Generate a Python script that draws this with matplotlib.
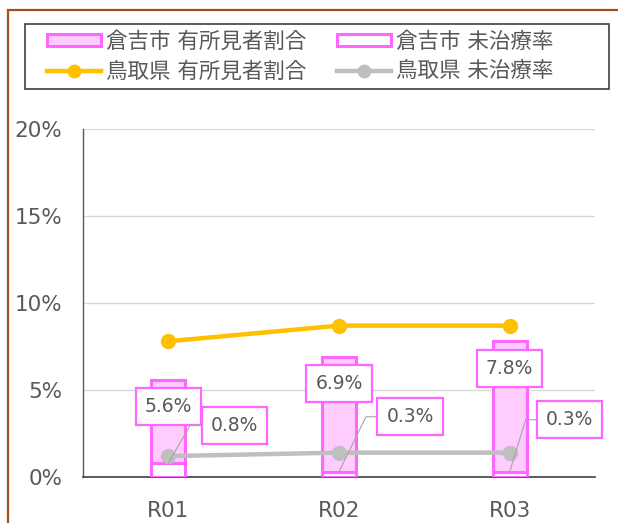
import math
import matplotlib
matplotlib.use("Agg")
import matplotlib.pyplot as plt
import matplotlib.patches as patches
from matplotlib.lines import Line2D

# Latin glyphs from DejaVu (Verdana-like), Japanese falls back to Noto CJK
plt.rcParams['font.family'] = ['DejaVu Sans', 'Noto Sans CJK JP']

years = ["R01", "R02", "R03"]
kurayoshi_yushoken = [5.6, 6.9, 7.8]   # 倉吉市 有所見者割合 (%)
kurayoshi_michiryo = [0.8, 0.3, 0.3]   # 倉吉市 未治療率 (%)
tottori_yushoken = [7.8, 8.7, 8.7]     # 鳥取県 有所見者割合 (%)
tottori_michiryo = [1.2, 1.4, 1.4]     # 鳥取県 未治療率 (%)
yticks = [0, 5, 10, 15, 20]

# label offsets (pixels) for the 未治療率 labels
michiryo_offsets = [(66, 38), (71, 55), (60, 52)]

pink_edge = "#FF66FF"
pink_fill = "#FFCCFF"
orange = "#FFC000"
gray = "#BFBFBF"
txt = "#595959"

fig = plt.figure(figsize=(6.18, 5.23), dpi=100)
W, H = 618, 523

# brown outer frame (only left and top visible)
fig.patches.append(patches.Rectangle((8 / W, -0.2), 1.2, (H - 10) / H + 0.2,
                                     transform=fig.transFigure, fill=False,
                                     ec="#A0521E", lw=1.6))

ax = fig.add_axes([83 / W, 46 / H, 512 / W, 348 / H])
x = list(range(len(years)))
bw = 0.2

ax.bar(x, kurayoshi_yushoken, width=bw, color=pink_fill, edgecolor=pink_edge,
       linewidth=2.2, zorder=2)
ax.bar(x, kurayoshi_michiryo, width=bw, color="white", edgecolor=pink_edge,
       linewidth=2.2, zorder=3)
ax.plot(x, tottori_michiryo, color=gray, lw=3.2, marker="o", ms=10, zorder=4)
ax.plot(x, tottori_yushoken, color=orange, lw=3.2, marker="o", ms=10, zorder=4)

box = dict(boxstyle="square,pad=0.48", fc="white", ec=pink_edge, lw=1.6)
for i, v in enumerate(kurayoshi_yushoken):
    ax.annotate(f"{v:.1f}%", xy=(i, v), xytext=(0, -27), textcoords="offset pixels",
                ha="center", va="center", fontsize=13.5, color=txt, bbox=box, zorder=6)

for i, v in enumerate(kurayoshi_michiryo):
    dx, dy = michiryo_offsets[i]
    ang = math.degrees(math.atan2(dy, dx - 44))
    ax.annotate(f"{v:.1f}%", xy=(i, v), xytext=(dx, dy), textcoords="offset pixels",
                ha="center", va="center", fontsize=13.5, color=txt, bbox=box, zorder=6,
                arrowprops=dict(arrowstyle="-", color="#A6A6A6", lw=0.8,
                                connectionstyle=f"angle,angleA=0,angleB={ang:.1f},rad=0",
                                shrinkA=0, shrinkB=0))

ax.set_xlim(-0.5, 2.5)
ax.set_ylim(0, 20)
ax.set_yticks(yticks)
ax.set_yticklabels([f"{t}%" for t in yticks])
ax.set_xticks(x)
ax.set_xticklabels(years)
ax.tick_params(length=0, labelsize=15.5, labelcolor=txt)
ax.tick_params(axis="y", pad=15)
ax.tick_params(axis="x", pad=17)
ax.grid(axis="y", color="#D9D9D9", lw=1)
ax.set_axisbelow(True)
for s in ["top", "right"]:
    ax.spines[s].set_visible(False)
ax.spines["left"].set_color("#595959")
ax.spines["bottom"].set_color("#404040")
ax.spines["left"].set_linewidth(1)
ax.spines["bottom"].set_linewidth(1.2)

# legend
handles = [
    patches.Patch(fc=pink_fill, ec=pink_edge, lw=2.2),
    Line2D([], [], color=orange, lw=3.2, marker="o", ms=9),
    patches.Patch(fc="white", ec=pink_edge, lw=2.2),
    Line2D([], [], color=gray, lw=3.2, marker="o", ms=9),
]
labels = ["倉吉市 有所見者割合", "鳥取県 有所見者割合", "倉吉市 未治療率", "鳥取県 未治療率"]
leg = fig.legend(handles, labels, ncol=2, loc="upper left",
                 bbox_to_anchor=(47 / W, 1 - 31 / H), frameon=False,
                 fontsize=15.5, labelcolor=txt, handlelength=2.5, handleheight=0.5,
                 handletextpad=0.25, columnspacing=1.4, labelspacing=0.45,
                 borderpad=0, borderaxespad=0)
fig.patches.append(patches.Rectangle((25 / W, 1 - 89 / H), 584 / W, 65 / H,
                                     transform=fig.transFigure, fill=False,
                                     ec="#404040", lw=1.2))

fig.savefig("out.png", dpi=100)
